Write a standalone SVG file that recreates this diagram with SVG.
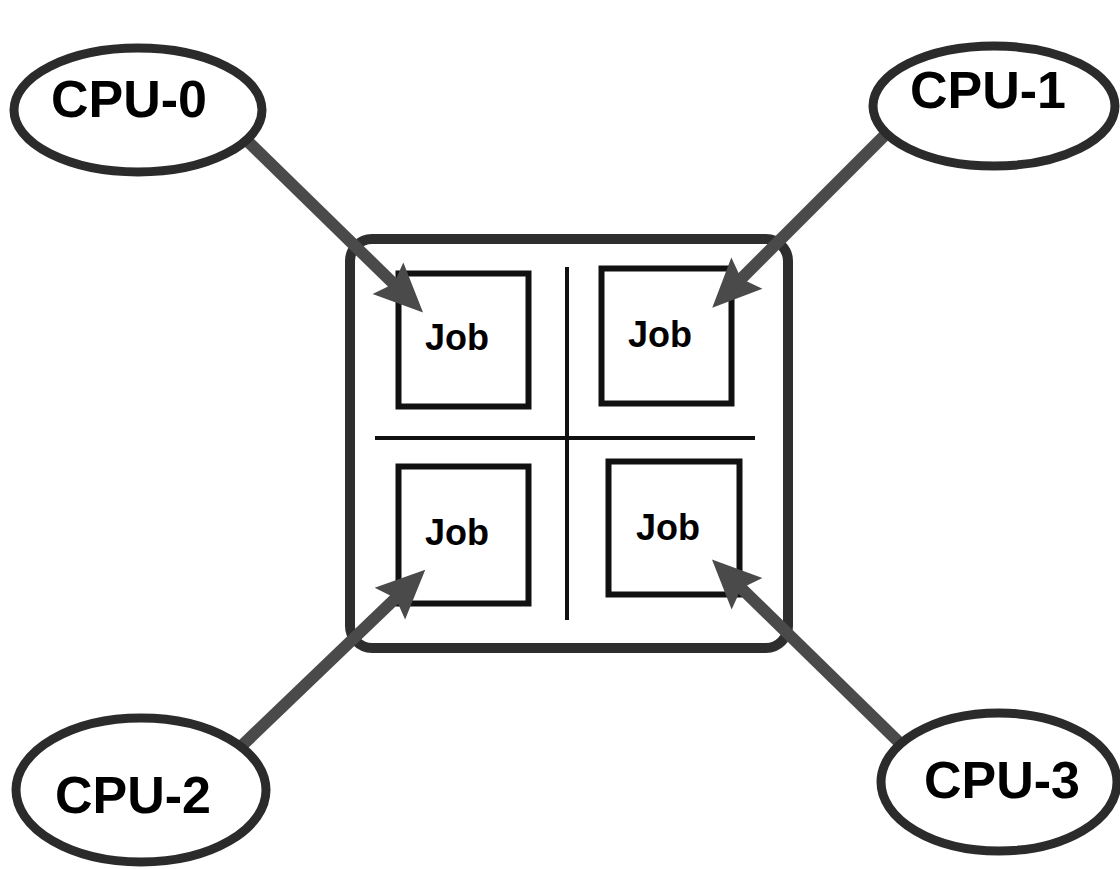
<svg xmlns="http://www.w3.org/2000/svg" width="1120" height="869" viewBox="0 0 1120 869">
  <style>
    .cpu ellipse { fill: #ffffff; stroke: #2b2b2b; stroke-width: 9; }
    .cpu text { font-family: "Liberation Sans", Arial, sans-serif; font-weight: bold; font-size: 52px; fill: #000; text-anchor: middle; }
    .job rect { fill: #ffffff; stroke: #111; stroke-width: 6; }
    .job text { font-family: "Liberation Sans", Arial, sans-serif; font-weight: bold; font-size: 36px; fill: #000; text-anchor: middle; }
    .frame { fill: none; stroke: #2e2e2e; stroke-width: 10; }
    .divider { stroke: #111; stroke-width: 4; }
    .conn { stroke: #4a4a4a; stroke-width: 12; fill: none; marker-end: url(#head); }
  </style>
  <defs>
    <marker id="head" markerUnits="userSpaceOnUse" viewBox="-20 -26 60 52" markerWidth="60" markerHeight="52" refX="0" refY="0" orient="auto">
      <path d="M35,0 L-14,-22 L-6,0 L-14,22 Z" fill="#4a4a4a"/>
    </marker>
  </defs>
  <rect width="1120" height="869" fill="#ffffff"/>

  <!-- shared queue with four job slots -->
  <g id="queue">
    <rect class="frame" x="350" y="239" width="438" height="409" rx="22"/>
    <line class="divider" x1="567" y1="267" x2="567" y2="620"/>
    <line class="divider" x1="375" y1="438" x2="755" y2="438"/>
  </g>
  <g id="job-0" class="job">
    <rect x="398.5" y="273.5" width="130" height="133"/>
    <text x="457" y="350">Job</text>
  </g>
  <g id="job-1" class="job">
    <rect x="601.5" y="268.5" width="130" height="135"/>
    <text x="660" y="347">Job</text>
  </g>
  <g id="job-2" class="job">
    <rect x="398.5" y="466.5" width="130" height="137"/>
    <text x="457" y="545">Job</text>
  </g>
  <g id="job-3" class="job">
    <rect x="608.5" y="461.5" width="131" height="133"/>
    <text x="668" y="540">Job</text>
  </g>

  <!-- each CPU picks a job -->
  <g id="connectors">
    <line class="conn" x1="230" y1="124" x2="398" y2="288"/>
    <line class="conn" x1="902" y1="118" x2="737" y2="283"/>
    <line class="conn" x1="228" y1="759" x2="400" y2="594"/>
    <line class="conn" x1="910" y1="753" x2="737" y2="584"/>
  </g>

  <g id="cpu-0" class="cpu">
    <ellipse cx="138" cy="110" rx="124" ry="62"/>
    <text x="129" y="117">CPU-0</text>
  </g>
  <g id="cpu-1" class="cpu">
    <ellipse cx="994" cy="106" rx="121" ry="60"/>
    <text x="988" y="108">CPU-1</text>
  </g>
  <g id="cpu-2" class="cpu">
    <ellipse cx="141" cy="790" rx="125" ry="72"/>
    <text x="133" y="813">CPU-2</text>
  </g>
  <g id="cpu-3" class="cpu">
    <ellipse cx="999" cy="782" rx="118" ry="69"/>
    <text x="1002" y="798">CPU-3</text>
  </g>
</svg>
